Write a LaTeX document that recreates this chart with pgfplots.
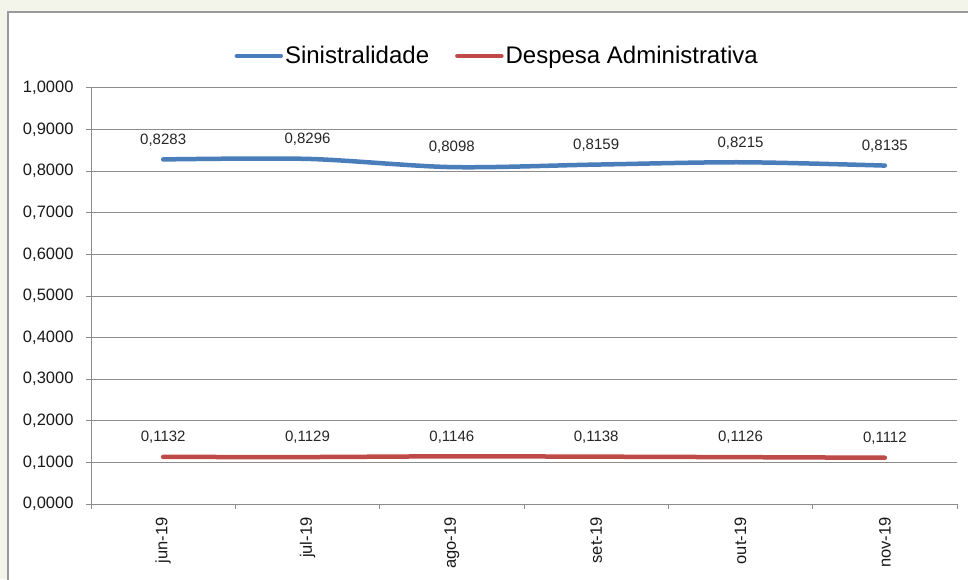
\documentclass[border=0pt]{standalone}
\usepackage{fontspec}
\setmainfont{Liberation Sans}
\usepackage{pgfplots}
\pgfplotsset{compat=1.18}
\definecolor{bgcream}{HTML}{F3F5EA}
\definecolor{sblue}{HTML}{4A7EBB}
\definecolor{sred}{HTML}{BE4B48}
\definecolor{gridgray}{HTML}{8C8C8C}
\definecolor{framegray}{HTML}{9A9A9A}
\begin{document}
\begin{tikzpicture}[x=1pt,y=1pt]
\fill[bgcream] (0,0) rectangle (968,579);
\fill[white] (8,-20) rectangle (990,567);
\draw[framegray, line width=1.2pt] (8,-20) -- (8,567) -- (990,567);
\begin{axis}[
  at={(91pt,75pt)}, anchor=south west,
  scale only axis, width=866pt, height=416pt,
  xmin=0.5, xmax=6.5, ymin=0, ymax=1,
  axis x line*=bottom, axis y line*=left,
  axis line style={-, draw=gridgray, line width=1pt},
  tick style={draw=gridgray, line width=1pt},
  tick align=outside, major tick length=5pt,
  ytick={0,0.1,0.2,0.3,0.4,0.5,0.6,0.7,0.8,0.9,1},
  ymajorgrids, major grid style={draw=gridgray, line width=1pt},
  xtick={0.5,1.5,2.5,3.5,4.5,5.5,6.5}, xticklabels={},
  extra x ticks={1,2,3,4,5,6},
  extra x tick labels={jun-19,jul-19,ago-19,set-19,out-19,nov-19},
  extra x tick style={major tick length=0pt, grid=none,
     xticklabel style={rotate=90, anchor=east, yshift=0pt, xshift=-10pt}},
  /pgf/number format/.cd, fixed, fixed zerofill, precision=4, use comma, assume math mode=true,
  /pgfplots/.cd,
  ticklabel style={font=\fontsize{16.5}{19}\selectfont, text=black!90},
  yticklabel style={xshift=-9pt},
  nodes near coords,
  every node near coord/.append style={font=\fontsize{15}{17}\selectfont, text=black!85, anchor=south, inner sep=2pt, yshift=9pt},
  legend columns=2,
  legend style={at={(0.469,1.077)}, anchor=center, draw=none, fill=none,
    font=\fontsize{24}{28}\selectfont, inner sep=0pt,
    /tikz/every even column/.append style={column sep=24pt}},
  legend image code/.code={\draw[#1, line cap=round] (0pt,0pt) -- (44pt,0pt);},
]
\addplot[sblue, line width=4.5pt, smooth, line cap=round] coordinates {
(1,0.8283) (2,0.8296) (3,0.8098) (4,0.8159) (5,0.8215) (6,0.8135)};
\addlegendentry{Sinistralidade}
\addplot[sred, line width=4.5pt, smooth, line cap=round] coordinates {
(1,0.1132) (2,0.1129) (3,0.1146) (4,0.1138) (5,0.1126) (6,0.1112)};
\addlegendentry{Despesa Administrativa}
\end{axis}
\pgfresetboundingbox
\path[use as bounding box] (0,0) rectangle (968,579);
\end{tikzpicture}
\end{document}
